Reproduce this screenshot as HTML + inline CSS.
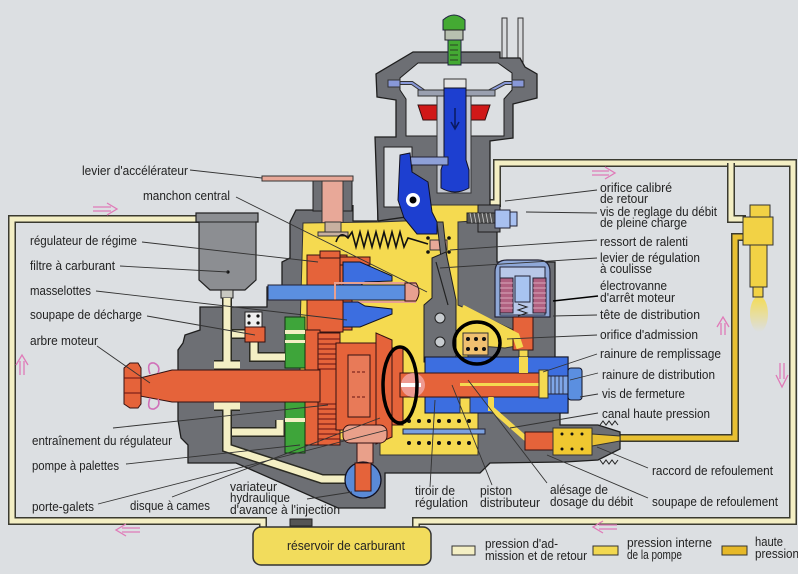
<!DOCTYPE html>
<html><head><meta charset="utf-8"><style>
html,body{margin:0;padding:0;background:#dcdfe2;}
svg{display:block;}
text{font-family:"Liberation Sans",sans-serif;font-size:13px;fill:#222;}
</style></head><body>
<svg width="798" height="574" viewBox="0 0 798 574" xmlns="http://www.w3.org/2000/svg">
<defs>
<linearGradient id="spray" x1="0" y1="0" x2="0" y2="1"><stop offset="0" stop-color="#f4dc55"/><stop offset="1" stop-color="#f4dc55" stop-opacity="0"/></linearGradient>
</defs>
<rect width="798" height="574" fill="#dcdfe2"/>

<!-- fuel lines -->
<g fill="none" stroke-linejoin="miter">
<path d="M200,219 H12 V521 H263 V529" stroke="#3a3a30" stroke-width="8"/>
<path d="M200,219 H12 V521 H263 V529" stroke="#f4efc4" stroke-width="5"/>
<path d="M416,529 V521 H793 V163 H497 V203 H482" stroke="#3a3a30" stroke-width="8"/>
<path d="M416,529 V521 H793 V163 H497 V203 H482" stroke="#f4efc4" stroke-width="5"/>
<path d="M731,163 V219 H746" stroke="#3a3a30" stroke-width="8"/>
<path d="M731,163 V219 H746" stroke="#f4efc4" stroke-width="5"/>
<path d="M610,438 H735 V237 H748" stroke="#3a3a30" stroke-width="8"/>
<path d="M610,438 H735 V237 H748" stroke="#e8c032" stroke-width="5"/>
</g>

<!-- injector -->
<ellipse cx="759" cy="314" rx="9" ry="18" fill="url(#spray)"/>
<rect x="750" y="205" width="20" height="12" fill="#f2d245" stroke="#333"/>
<rect x="743" y="217" width="30" height="28" fill="#f2d245" stroke="#333"/>
<rect x="750" y="245" width="17" height="42" fill="#f2d245" stroke="#333"/>
<rect x="753" y="287" width="10" height="10" fill="#f2d245" stroke="#333"/>

<!-- reservoir -->
<rect x="290" y="519" width="22" height="7" fill="#555" stroke="#222"/>
<rect x="253" y="527" width="178" height="38" rx="8" fill="#f2dc5c" stroke="#333" stroke-width="1.5"/>
<text x="287" y="550" textLength="118" lengthAdjust="spacingAndGlyphs">réservoir de carburant</text>

<!-- main grey housing -->
<path d="M296,210 L378,210 L378,205 L497,205 L497,262 L555,262 L555,357 L568,357 L568,413 L560,413 L560,425 L598,425 L620,432 L620,449 L598,460 L565,462 L490,463 L480,473 L385,473 L385,508 L338,508 L236,463 L188,463 L188,445 L181,438 L178,420 L178,350 L183,343 L185,335 L200,330 L200,307 L267,307 L267,287 L282,285 L282,262 L290,258 L290,222 Z" fill="#6d6f74" stroke="#1e1e1e" stroke-width="1.3"/>
<rect x="353" y="204" width="24" height="17" fill="#dcdfe2"/>
<path d="M353,205 V221 H377" fill="none" stroke="#1e1e1e" stroke-width="1.2"/>

<!-- tower -->
<rect x="502" y="18" width="5" height="42" fill="#d8dadc" stroke="#333"/>
<rect x="518" y="18" width="5" height="45" fill="#d8dadc" stroke="#333"/>
<path d="M413,52 L500,52 L500,58 L520,58 L525,67 L537,74 L537,98 L513,104 L513,138 L490,141 L490,205 L378,221 L375,137 L396,137 L396,100 L377,97 L376,74 Z" fill="#6d6f74" stroke="#1e1e1e" stroke-width="1.3"/>
<path d="M418,63 L498,63 L512,73 L512,90 L504,99 L504,136 L406,136 L406,99 L400,90 L400,78 Z" fill="#dcdfe2" stroke="#1e1e1e"/>
<rect x="384" y="147" width="28" height="60" fill="#dcdfe2" stroke="#1e1e1e"/>
<!-- green plug -->
<path d="M443,30 L443,20 Q454,10 465,20 L465,30 Z" fill="#44aa33" stroke="#224"/>
<rect x="445" y="30" width="18" height="10" fill="#b8c0b0" stroke="#222"/>
<rect x="448" y="40" width="13" height="25" fill="#44aa33" stroke="#224"/>
<path d="M450,45 H458 M450,50 H458 M450,55 H458 M450,60 H458" stroke="#222" stroke-width="0.8"/>
<!-- diaphragm -->
<path d="M390,83 L412,83 L425,92 L488,92 L505,83 L522,83" fill="none" stroke="#333" stroke-width="4"/>
<path d="M390,83 L412,83 L425,92 L488,92 L505,83 L522,83" fill="none" stroke="#8898d8" stroke-width="2"/>
<rect x="388" y="80" width="12" height="7" fill="#8898d8" stroke="#333"/>
<rect x="512" y="80" width="12" height="7" fill="#8898d8" stroke="#333"/>
<rect x="418" y="90" width="77" height="6" fill="#9aa0b0" stroke="#333"/>
<rect x="444" y="79" width="22" height="10" fill="#e4e4e4" stroke="#333"/>
<path d="M418,105 L437,105 L437,120 L423,120 Z" fill="#d01818" stroke="#311"/>
<path d="M471,105 L490,105 L485,120 L471,120 Z" fill="#d01818" stroke="#311"/>
<rect x="437" y="96" width="34" height="97" fill="#c5c9d2" stroke="#333"/>
<path d="M444,88 L466,88 L466,160 L469,170 L469,188 Q455,196 441,188 L441,170 L444,160 Z" fill="#1d3fd0" stroke="#112"/>
<path d="M455,108 V128 M451,122 L455,129 L459,122" stroke="#0a1a60" stroke-width="1.5" fill="none"/>
<rect x="410" y="157" width="38" height="8" fill="#8ea0d8" stroke="#223"/>

<!-- accelerator lever -->
<rect x="313" y="181" width="9" height="30" fill="#6d6f74" stroke="#1e1e1e"/>
<rect x="343" y="181" width="9" height="30" fill="#6d6f74" stroke="#1e1e1e"/>
<rect x="262" y="176" width="91" height="5" fill="#e8a898" stroke="#333"/>
<rect x="322" y="181" width="21" height="42" fill="#e8a898" stroke="#333"/>

<!-- yellow interior -->
<path d="M303,223 L378,222 L430,220 L430,205 L488,205 L488,220 L458,222 L458,305 L520,333 L522,345 L505,348 L468,345 L468,357 L425,357 L425,413 L478,413 L478,455 L380,455 L380,440 L300,440 L300,330 Z" fill="#f5da50" stroke="#333" stroke-width="1"/>
<path d="M400,155 L410,153 L412,172 L428,182 L432,212 L437,222 L437,234 L417,234 L404,218 L398,200 Z" fill="#1d3fd0" stroke="#112"/>
<circle cx="413" cy="200" r="7" fill="#fff"/>
<circle cx="413" cy="200" r="3.5" fill="#000"/>
<rect x="325" y="222" width="16" height="12" fill="#c8b0a0" stroke="#333"/>
<rect x="318" y="232" width="30" height="4" fill="#c8b0a0" stroke="#333"/>
<!-- accel spring -->
<path d="M336,242 Q340,230 348,238 L352,232 L356,247 L360,232 L364,247 L368,232 L372,247 L376,232 L380,247 L384,232 L388,247 L392,232 L396,247 L400,232 L404,247 L408,238 L428,244" fill="none" stroke="#111" stroke-width="1.6"/>
<!-- ralenti -->
<rect x="430" y="240" width="17" height="10" fill="#e8a898" stroke="#333"/>
<circle cx="428" cy="238" r="1.8" fill="#111"/><circle cx="428" cy="252" r="1.8" fill="#111"/><circle cx="449" cy="238" r="1.8" fill="#111"/><circle cx="449" cy="252" r="1.8" fill="#111"/>
<!-- regulation lever -->
<path d="M437,222 L443,222 L447,258 L441,258 Z" fill="#6d6f74" stroke="#222"/>
<path d="M432,258 L446,252 L456,300 L456,362 L424,362 L424,305 L432,298 Z" fill="#6d6f74" stroke="#1e1e1e"/>
<path d="M436,262 L448,305" stroke="#222" stroke-width="1.2"/>
<circle cx="440" cy="318" r="5" fill="#c8ccd0" stroke="#222"/>
<circle cx="440" cy="342" r="5" fill="#c8ccd0" stroke="#222"/>
<!-- screw vis de reglage -->
<rect x="478" y="205" width="22" height="27" fill="#6d6f74" stroke="#1e1e1e"/>
<rect x="467" y="213" width="28" height="10" fill="#555" stroke="#222"/>
<path d="M470,213 L472,223 M474,213 L476,223 M478,213 L480,223 M482,213 L484,223 M486,213 L488,223 M490,213 L492,223" stroke="#ccc" stroke-width="0.8"/>
<rect x="495" y="210" width="15" height="18" fill="#a8c0f0" stroke="#223"/>
<rect x="510" y="212" width="7" height="14" fill="#a8c0f0" stroke="#223"/>

<!-- solenoid -->
<path d="M495,317 L495,272 Q495,260 507,260 L538,260 Q550,260 550,272 L550,317 Z" fill="#8fa8d8" stroke="#223" stroke-width="1.2"/>
<rect x="500" y="267" width="45" height="48" fill="#b8c8e8" stroke="#223"/>
<rect x="500" y="278" width="13" height="35" fill="#b06080" stroke="#223"/>
<rect x="533" y="278" width="13" height="35" fill="#b06080" stroke="#223"/>
<path d="M500,283 H513 M500,288 H513 M500,293 H513 M500,298 H513 M500,303 H513 M500,308 H513 M533,283 H546 M533,288 H546 M533,293 H546 M533,298 H546 M533,303 H546 M533,308 H546" stroke="#e8c0d0" stroke-width="0.8"/>
<rect x="515" y="276" width="15" height="26" fill="#a8c4f0" stroke="#223"/>
<path d="M518,304 L527,307 L518,310 L527,313 L518,316" fill="none" stroke="#222"/>
<rect x="513" y="317" width="20" height="33" fill="#e5633a" stroke="#311"/>
<rect x="519" y="350" width="9" height="22" fill="#f5da50" stroke="#333"/>
<path d="M462,308 L516,336 L520,348" fill="none" stroke="#f5da50" stroke-width="7"/>

<!-- governor -->
<rect x="307" y="255" width="40" height="32" fill="#e5633a" stroke="#311"/>
<rect x="320" y="251" width="20" height="7" fill="#e5633a" stroke="#311"/>
<rect x="340" y="257" width="12" height="33" fill="#e5633a" stroke="#311"/>
<rect x="340" y="257" width="30" height="8" fill="#e5633a" stroke="#311"/>
<path d="M343,262 L360,262 L392,276 L392,281 L365,282 L358,287 L343,287 Z" fill="#3c6ee0" stroke="#112"/>
<rect x="268" y="285" width="142" height="15" fill="#5b8fe0" stroke="#223"/>
<rect x="335" y="283" width="80" height="19" fill="none" stroke="#e8a090" stroke-width="2"/>
<path d="M405,283 L416,283 Q422,292 416,301 L405,301 Z" fill="#e8a090" stroke="#311"/>
<rect x="340" y="300" width="12" height="30" fill="#e5633a" stroke="#311"/>
<path d="M343,302 L358,302 L365,306 L392,309 L392,314 L360,327 L343,327 Z" fill="#3c6ee0" stroke="#112"/>
<rect x="307" y="300" width="36" height="32" fill="#e5633a" stroke="#311"/>
<rect x="305" y="330" width="15" height="115" fill="#e5633a" stroke="#311"/>
<rect x="318" y="333" width="22" height="112" fill="#e5633a" stroke="#311"/>
<path d="M318,339 H340 M318,344 H340 M318,349 H340 M318,354 H340 M318,359 H340 M318,364 H340 M318,369 H340 M318,404 H340 M318,409 H340 M318,414 H340 M318,419 H340 M318,424 H340 M318,429 H340 M318,434 H340 M318,439 H340" stroke="#611" stroke-width="0.9"/>
<rect x="285" y="317" width="20" height="51" fill="#3ea53a" stroke="#131"/>
<rect x="285" y="402" width="20" height="51" fill="#3ea53a" stroke="#131"/>
<rect x="285" y="330" width="20" height="4" fill="#f4efc4"/>
<rect x="285" y="340" width="20" height="3" fill="#f4efc4"/>
<rect x="285" y="418" width="20" height="4" fill="#f4efc4"/>

<!-- filter -->
<path d="M196,213 L258,213 L258,222 L256,222 L256,280 L245,290 L210,290 L199,280 L199,222 L196,222 Z" fill="#8c8e92" stroke="#222" stroke-width="1.2"/>
<line x1="199" y1="222" x2="256" y2="222" stroke="#222"/>
<circle cx="228" cy="272" r="1.6" fill="#111"/>
<rect x="221" y="290" width="12" height="8" fill="#c8c8c0" stroke="#222"/>

<!-- pale channels -->
<g fill="none" stroke-linejoin="miter">
<path d="M227,298 V366 M214,365 H240 M232,334 H246 M254,342 V357 H285 M214,406 H240 M227,406 V448 L322,479 H346 M232,432 H280 V420" stroke="#2a2a22" stroke-width="10"/>
<path d="M227,298 V366 M214,365 H240 M232,334 H246 M254,342 V357 H285 M214,406 H240 M227,406 V448 L322,479 H346 M232,432 H280 V420" stroke="#f4efc4" stroke-width="7"/>
</g>
<rect x="245" y="312" width="17" height="15" fill="#eee" stroke="#222"/>
<circle cx="249" cy="316" r="1.6" fill="#111"/><circle cx="258" cy="316" r="1.6" fill="#111"/><circle cx="249" cy="323" r="1.6" fill="#111"/><circle cx="258" cy="323" r="1.6" fill="#111"/>
<rect x="245" y="327" width="20" height="15" fill="#e5633a" stroke="#311"/>

<!-- drive shaft -->
<path d="M140,378 L172,370 L320,370 L320,402 L172,402 L140,396 Z" fill="#e5633a" stroke="#311"/>
<path d="M124,368 L130,363 L138,363 L141,368 L141,404 L138,408 L130,408 L124,404 Z" fill="#e5633a" stroke="#311"/>
<path d="M124,378 H141 M124,393 H141" stroke="#611"/>
<path d="M150,374 Q146,362 154,363 Q161,366 158,373 M150,398 Q146,410 154,409 Q161,406 158,399" fill="none" stroke="#d070b8" stroke-width="1.6"/>

<!-- cage / cam / plunger -->
<rect x="336" y="343" width="44" height="87" fill="#e5633a" stroke="#311"/>
<rect x="348" y="355" width="22" height="62" fill="#e87a58" stroke="#311"/>
<path d="M352,372 H366 M352,397 H366" stroke="#611" stroke-dasharray="3,2"/>
<path d="M376,333 L392,340 L392,437 L376,444 Z" fill="#e5633a" stroke="#311"/>
<rect x="392" y="348" width="11" height="77" fill="#e5633a" stroke="#311"/>
<rect x="425" y="357" width="143" height="56" fill="#3c6ee0" stroke="#112"/>
<rect x="460" y="398" width="10" height="15" fill="#f5da50" stroke="#333"/>
<rect x="488" y="397" width="6" height="14" fill="#f5da50"/>
<rect x="400" y="373" width="145" height="24" fill="#e5633a" stroke="#311"/>
<circle cx="413" cy="385" r="12" fill="#f0a8a8" opacity="0.8"/>
<rect x="401" y="383" width="20" height="4" fill="#fff"/>
<rect x="460" y="383" width="84" height="3" fill="#f5da50"/>
<rect x="539" y="370" width="9" height="28" fill="#f5da50" stroke="#333"/>
<rect x="519" y="357" width="9" height="16" fill="#f5da50"/>
<rect x="548" y="376" width="21" height="18" fill="#7fa6e8" stroke="#223"/>
<path d="M551,376 V394 M555,376 V394 M559,376 V394 M563,376 V394" stroke="#223" stroke-width="0.8"/>
<rect x="568" y="368" width="14" height="32" rx="3" fill="#5b8fe0" stroke="#112"/>
<!-- spring region -->
<rect x="403" y="429" width="82" height="5" fill="#7aa0e0" stroke="#223"/>
<g fill="#111">
<circle cx="409" cy="421" r="2"/><circle cx="419" cy="421" r="2"/><circle cx="429" cy="421" r="2"/><circle cx="439" cy="421" r="2"/><circle cx="449" cy="421" r="2"/><circle cx="459" cy="421" r="2"/><circle cx="469" cy="421" r="2"/>
<circle cx="409" cy="443" r="2"/><circle cx="419" cy="443" r="2"/><circle cx="429" cy="443" r="2"/><circle cx="439" cy="443" r="2"/><circle cx="449" cy="443" r="2"/><circle cx="459" cy="443" r="2"/><circle cx="469" cy="443" r="2"/>
</g>
<!-- HP channel & delivery valve -->
<path d="M491,397 V408 L525,438 H540" fill="none" stroke="#f5da50" stroke-width="5"/>
<rect x="525" y="432" width="28" height="18" fill="#e5633a" stroke="#311"/>
<rect x="553" y="428" width="39" height="27" fill="#f0c830" stroke="#333"/>
<g fill="#111"><circle cx="562" cy="434" r="1.5"/><circle cx="572" cy="434" r="1.5"/><circle cx="582" cy="434" r="1.5"/><circle cx="562" cy="449" r="1.5"/><circle cx="572" cy="449" r="1.5"/><circle cx="582" cy="449" r="1.5"/></g>
<path d="M592,434 L620,436 L620,441 L592,446 Z" fill="#e8c032" stroke="#333"/>
<path d="M600,425 L603,421 L606,425 L609,421 L612,425 L615,421 L618,425 M600,460 L603,464 L606,460 L609,464 L612,460 L615,464 L618,460" fill="none" stroke="#222"/>
<!-- roller & variator -->
<rect x="343" y="425" width="44" height="18" rx="7" fill="#e9a08a" stroke="#311"/>
<rect x="357" y="443" width="16" height="20" fill="#e9a08a" stroke="#311"/>
<circle cx="363" cy="480" r="18" fill="#5a8ad8" stroke="#112" stroke-width="1.3"/>
<rect x="355" y="463" width="16" height="28" fill="#e5633a" stroke="#311"/>
<!-- admission spring block -->
<rect x="463" y="333" width="25" height="22" fill="#f0c070" stroke="#333"/>
<g fill="#111"><circle cx="468" cy="339" r="2"/><circle cx="476" cy="339" r="2"/><circle cx="484" cy="339" r="2"/><circle cx="468" cy="349" r="2"/><circle cx="476" cy="349" r="2"/><circle cx="484" cy="349" r="2"/></g>

<!-- black ellipses -->
<ellipse cx="400" cy="385" rx="17" ry="38" fill="none" stroke="#000" stroke-width="3.5"/>
<ellipse cx="477" cy="343" rx="23" ry="21" fill="none" stroke="#000" stroke-width="3.5"/>

<!-- leader lines -->
<g stroke="#333" stroke-width="0.9" fill="none">
<path d="M190,170 L262,178"/>
<path d="M236,197 L427,292"/>
<path d="M142,242 L318,262"/>
<path d="M120,266 L228,272"/>
<path d="M96,291 L347,320"/>
<path d="M147,316 L255,335"/>
<path d="M97,346 L150,383"/>
<path d="M113,428 L328,405"/>
<path d="M126,464 L300,445"/>
<path d="M98,504 L387,430"/>
<path d="M172,497 L380,418"/>
<path d="M307,499 L352,492"/>
<path d="M430,487 L435,400"/>
<path d="M492,485 L452,385"/>
<path d="M547,483 L468,380"/>
<path d="M648,468 L597,447"/>
<path d="M648,498 L547,455"/>
<path d="M598,413 L510,428"/>
<path d="M598,394 L580,397"/>
<path d="M598,373 L570,380"/>
<path d="M597,354 L543,372"/>
<path d="M597,335 L507,339"/>
<path d="M597,315 L553,316"/>
<path d="M597,258 L440,268"/>
<path d="M597,240 L450,250"/>
<path d="M597,213 L526,212"/>
<path d="M597,190 L505,201"/>
</g>
<path d="M598,296 L553,301" stroke="#000" stroke-width="1.6"/>

<!-- labels left -->
<text x="82" y="175" textLength="106" lengthAdjust="spacingAndGlyphs">levier d'accélérateur</text>
<text x="143" y="200" textLength="87" lengthAdjust="spacingAndGlyphs">manchon central</text>
<text x="30" y="245" textLength="107" lengthAdjust="spacingAndGlyphs">régulateur de régime</text>
<text x="30" y="270" textLength="85" lengthAdjust="spacingAndGlyphs">filtre à carburant</text>
<text x="30" y="295" textLength="61" lengthAdjust="spacingAndGlyphs">masselottes</text>
<text x="30" y="319" textLength="112" lengthAdjust="spacingAndGlyphs">soupape de décharge</text>
<text x="30" y="345" textLength="68" lengthAdjust="spacingAndGlyphs">arbre moteur</text>
<text x="32" y="445" textLength="140" lengthAdjust="spacingAndGlyphs">entraînement du régulateur</text>
<text x="32" y="470" textLength="87" lengthAdjust="spacingAndGlyphs">pompe à palettes</text>
<text x="32" y="511" textLength="62" lengthAdjust="spacingAndGlyphs">porte-galets</text>
<text x="130" y="510" textLength="80" lengthAdjust="spacingAndGlyphs">disque à cames</text>
<text x="230" y="491" textLength="47" lengthAdjust="spacingAndGlyphs">variateur</text>
<text x="230" y="502" textLength="60" lengthAdjust="spacingAndGlyphs">hydraulique</text>
<text x="230" y="514" textLength="110" lengthAdjust="spacingAndGlyphs">d'avance à l'injection</text>
<!-- bottom -->
<text x="415" y="495" textLength="40" lengthAdjust="spacingAndGlyphs">tiroir de</text>
<text x="415" y="507" textLength="53" lengthAdjust="spacingAndGlyphs">régulation</text>
<text x="480" y="495" textLength="32" lengthAdjust="spacingAndGlyphs">piston</text>
<text x="480" y="507" textLength="60" lengthAdjust="spacingAndGlyphs">distributeur</text>
<text x="550" y="494" textLength="58" lengthAdjust="spacingAndGlyphs">alésage de</text>
<text x="550" y="506" textLength="83" lengthAdjust="spacingAndGlyphs">dosage du débit</text>
<text x="652" y="475" textLength="121" lengthAdjust="spacingAndGlyphs">raccord de refoulement</text>
<text x="652" y="506" textLength="126" lengthAdjust="spacingAndGlyphs">soupape de refoulement</text>
<!-- right -->
<text x="600" y="192" textLength="72" lengthAdjust="spacingAndGlyphs">orifice calibré</text>
<text x="600" y="203" textLength="48" lengthAdjust="spacingAndGlyphs">de retour</text>
<text x="600" y="216" textLength="117" lengthAdjust="spacingAndGlyphs">vis de reglage du débit</text>
<text x="600" y="227" textLength="87" lengthAdjust="spacingAndGlyphs">de pleine charge</text>
<text x="600" y="246" textLength="88" lengthAdjust="spacingAndGlyphs">ressort de ralenti</text>
<text x="600" y="262" textLength="100" lengthAdjust="spacingAndGlyphs">levier de régulation</text>
<text x="600" y="273" textLength="52" lengthAdjust="spacingAndGlyphs">à coulisse</text>
<text x="600" y="290" textLength="67" lengthAdjust="spacingAndGlyphs">électrovanne</text>
<text x="600" y="302" textLength="75" lengthAdjust="spacingAndGlyphs">d'arrêt moteur</text>
<text x="600" y="319" textLength="100" lengthAdjust="spacingAndGlyphs">tête de distribution</text>
<text x="600" y="339" textLength="98" lengthAdjust="spacingAndGlyphs">orifice d'admission</text>
<text x="600" y="358" textLength="121" lengthAdjust="spacingAndGlyphs">rainure de remplissage</text>
<text x="602" y="379" textLength="113" lengthAdjust="spacingAndGlyphs">rainure de distribution</text>
<text x="602" y="398" textLength="83" lengthAdjust="spacingAndGlyphs">vis de fermeture</text>
<text x="602" y="418" textLength="108" lengthAdjust="spacingAndGlyphs">canal haute pression</text>

<!-- legend -->
<rect x="452" y="546" width="23" height="9" fill="#f4efc4" stroke="#333"/>
<text x="485" y="548" textLength="73" lengthAdjust="spacingAndGlyphs">pression d'ad-</text>
<text x="485" y="560" textLength="102" lengthAdjust="spacingAndGlyphs">mission et de retour</text>
<rect x="593" y="546" width="25" height="9" fill="#f2d850" stroke="#333"/>
<text x="627" y="547" textLength="85" lengthAdjust="spacingAndGlyphs">pression interne</text>
<text x="627" y="559" textLength="55" lengthAdjust="spacingAndGlyphs">de la pompe</text>
<rect x="722" y="546" width="25" height="9" fill="#e6b828" stroke="#333"/>
<text x="755" y="546" textLength="28" lengthAdjust="spacingAndGlyphs">haute</text>
<text x="755" y="558" textLength="44" lengthAdjust="spacingAndGlyphs">pression</text>

<!-- pink flow arrows -->
<g fill="none" stroke="#e07ab8" stroke-width="1.3">
<path d="M93,207 H111 M93,211 H111 M107,203 L117,209 L107,215"/>
<path d="M592,171 H609 M592,175 H609 M605,167 L615,173 L605,179"/>
<path d="M140,528 H122 M140,532 H122 M126,524 L116,530 L126,536"/>
<path d="M617,525 H599 M617,529 H599 M603,521 L593,527 L603,533"/>
<path d="M20,375 V361 M24,375 V361 M16,365 L22,355 L28,365"/>
<path d="M721,335 V323 M725,335 V323 M717,327 L723,317 L729,327"/>
<path d="M780,363 V379 M784,363 V379 M776,375 L782,387 L788,375"/>
</g>
</svg>
</body></html>
